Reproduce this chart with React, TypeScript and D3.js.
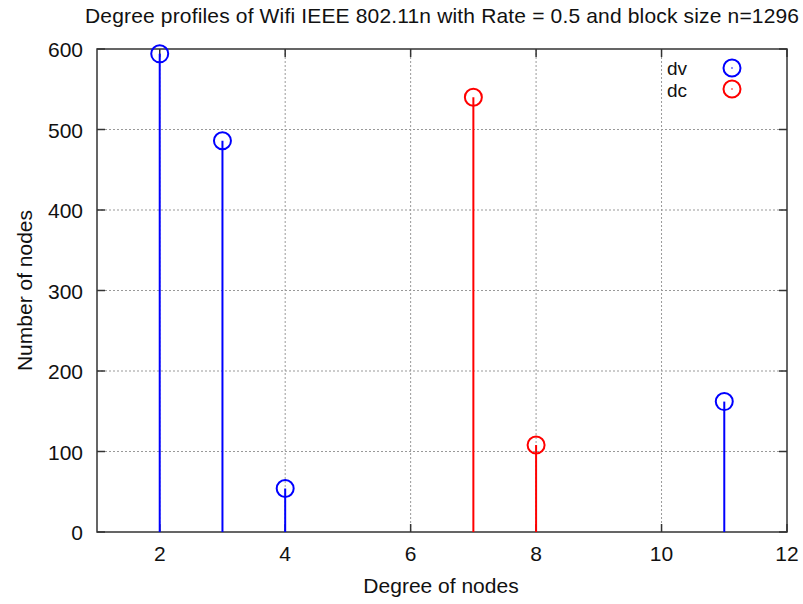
import React from "react";
import * as d3 from "d3";

const dvDegrees = [2, 3, 4, 11];
const dvCounts = [594, 486, 54, 162];
const dcDegrees = [7, 8];
const dcCounts = [540, 108];
const xTicks = [2, 4, 6, 8, 10, 12];
const yTicks = [0, 100, 200, 300, 400, 500, 600];

const W = 803;
const H = 604;
const left = 97;
const right = 787;
const top = 49;
const bottom = 532;
const font = "'Liberation Sans', Arial, sans-serif";

const App = () => {
  const x = d3.scaleLinear().domain([1, 12]).range([left, right]);
  const y = d3.scaleLinear().domain([0, 600]).range([bottom, top]);

  const series = [
    { name: "dv", color: "#0000ff", xs: dvDegrees, ys: dvCounts },
    { name: "dc", color: "#ff0000", xs: dcDegrees, ys: dcCounts },
  ];

  return (
    <svg width={W} height={H} style={{ position: "absolute", left: 0, top: 0 }}>
      <rect width={W} height={H} fill="#fff" />
      {/* grid */}
      {xTicks.filter((t) => t > 1 && t < 12).map((t) => (
        <line key={"gx" + t} x1={x(t)} x2={x(t)} y1={top} y2={bottom}
          stroke="#999" strokeWidth={1} strokeDasharray="2,2" />
      ))}
      {yTicks.filter((t) => t > 0 && t < 600).map((t) => (
        <line key={"gy" + t} x1={left} x2={right} y1={y(t)} y2={y(t)}
          stroke="#999" strokeWidth={1} strokeDasharray="2,2" />
      ))}
      {/* ticks */}
      {xTicks.map((t) => (
        <g key={"tx" + t}>
          <line x1={x(t)} x2={x(t)} y1={bottom} y2={bottom - 8} stroke="#333" strokeWidth={1.5} />
          <line x1={x(t)} x2={x(t)} y1={top} y2={top + 8} stroke="#333" strokeWidth={1.5} />
          <text x={x(t)} y={bottom + 29} textAnchor="middle" fontFamily={font} fontSize={21} fill="#111">{t}</text>
        </g>
      ))}
      {yTicks.map((t) => (
        <g key={"ty" + t}>
          <line x1={left} x2={left + 8} y1={y(t)} y2={y(t)} stroke="#333" strokeWidth={1.5} />
          <line x1={right} x2={right - 8} y1={y(t)} y2={y(t)} stroke="#333" strokeWidth={1.5} />
          <text x={left - 14} y={y(t) + 8} textAnchor="end" fontFamily={font} fontSize={21} fill="#111">{t}</text>
        </g>
      ))}
      <rect x={left} y={top} width={right - left} height={bottom - top} fill="none" stroke="#333" strokeWidth={1.5} />
      {/* stems */}
      {series.map((s) =>
        s.xs.map((d, i) => (
          <g key={s.name + d}>
            <line x1={x(d)} x2={x(d)} y1={y(0)} y2={y(s.ys[i])} stroke={s.color} strokeWidth={2} />
            <circle cx={x(d)} cy={y(s.ys[i])} r={8.5} fill="none" stroke={s.color} strokeWidth={2} />
          </g>
        ))
      )}
      {/* legend */}
      {series.map((s, i) => (
        <g key={"lg" + s.name}>
          <text x={667} y={75 + i * 22} fontFamily={font} fontSize={19} fill="#111">{s.name}</text>
          <circle cx={732} cy={68 + i * 21} r={8.5} fill="none" stroke={s.color} strokeWidth={2} />
          <circle cx={732} cy={68 + i * 21} r={0.8} fill={s.color} />
        </g>
      ))}
      <text x={442} y={23} textAnchor="middle" fontFamily={font} fontSize={21} fill="#111"
        textLength={714} lengthAdjust="spacing">
        Degree profiles of Wifi IEEE 802.11n with Rate = 0.5 and block size n=1296
      </text>
      <text x={441} y={593} textAnchor="middle" fontFamily={font} fontSize={21} fill="#111">Degree of nodes</text>
      <text transform={`translate(32,${(top + bottom) / 2}) rotate(-90)`} textAnchor="middle"
        fontFamily={font} fontSize={21} fill="#111">Number of nodes</text>
    </svg>
  );
};

export default App;
